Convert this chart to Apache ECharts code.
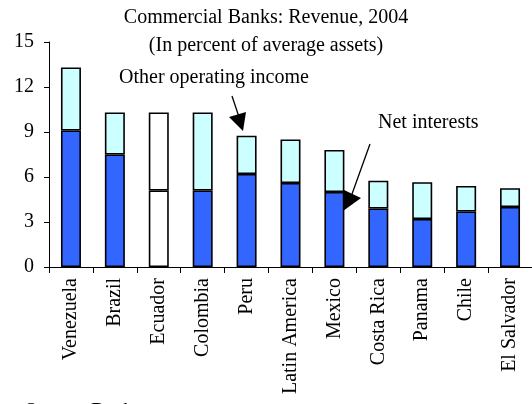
<!DOCTYPE html>
<html>
<head>
<meta charset="utf-8">
<script src="https://cdn.jsdelivr.net/npm/echarts@6/dist/echarts.min.js"></script>
<style>
  html, body { margin: 0; padding: 0; background: #fff; }
  #chart { width: 532px; height: 404px; }
</style>
</head>
<body>
<div id="chart"></div>
<script>
// Commercial bank revenue by country, 2004 (percent of average assets)
const countries = ['Venezuela', 'Brazil', 'Ecuador', 'Colombia', 'Peru', 'Latin America',
  'Mexico', 'Costa Rica', 'Panama', 'Chile', 'El Salvador'];
const netInterests = [9.1, 7.5, 5.1, 5.1, 6.2, 5.6, 5.0, 3.9, 3.2, 3.7, 4.0];
const otherIncome  = [4.2, 2.8, 5.2, 5.2, 2.55, 2.9, 2.8, 1.85, 2.45, 1.7, 1.25];
const yTicks = [0, 3, 6, 9, 12, 15];

const FONT = '"Liberation Serif", "Times New Roman", serif';
const BLUE = '#3366ff';
const CYAN = '#ccffff';
// Ecuador has no breakdown colouring
const blankCountry = 'Ecuador';

function cellStyle(base) {
  return (v, i) => ({
    value: v,
    itemStyle: { color: countries[i] === blankCountry ? '#ffffff' : base }
  });
}

const chart = echarts.init(document.getElementById('chart'), null, { renderer: 'canvas' });

const barBorder = { borderColor: '#000', borderWidth: 1.6 };

chart.setOption({
  animation: false,
  backgroundColor: '#ffffff',
  textStyle: { fontFamily: FONT },
  title: {
    text: 'Commercial Banks: Revenue, 2004',
    subtext: '(In percent of average assets)',
    left: 'center', top: 3,
    textStyle: { fontFamily: FONT, fontSize: 20, fontWeight: 'normal', color: '#000' },
    subtextStyle: { fontFamily: FONT, fontSize: 20, color: '#000' },
    itemGap: 8
  },
  grid: { left: 49, top: 42, width: 484, height: 225, containLabel: false },
  xAxis: {
    type: 'category',
    data: countries,
    axisLine: { lineStyle: { color: '#000', width: 1 } },
    axisTick: { show: true, length: 6, lineStyle: { color: '#000' } },
    axisLabel: {
      rotate: 90, interval: 0, margin: 11,
      fontFamily: FONT, fontSize: 20, color: '#000'
    }
  },
  yAxis: {
    type: 'value',
    min: yTicks[0], max: yTicks[yTicks.length - 1], interval: 3,
    splitLine: { show: false },
    axisLine: { show: true, lineStyle: { color: '#000', width: 1 } },
    axisTick: { show: true, length: 5, lineStyle: { color: '#000' } },
    axisLabel: { fontFamily: FONT, fontSize: 20, color: '#000', margin: 15 }
  },
  series: [
    {
      name: 'Net interests', type: 'bar', stack: 'rev', barWidth: 20,
      itemStyle: Object.assign({ color: BLUE }, barBorder),
      data: netInterests.map(cellStyle(BLUE))
    },
    {
      name: 'Other operating income', type: 'bar', stack: 'rev', barWidth: 20,
      itemStyle: Object.assign({ color: CYAN }, barBorder),
      data: otherIncome.map(cellStyle(CYAN))
    }
  ],
  graphic: [
    { type: 'text', left: 119, top: 68,
      style: { text: 'Other operating income', font: '20px ' + FONT, fill: '#000' } },
    { type: 'text', left: 378, top: 113,
      style: { text: 'Net interests', font: '20px ' + FONT, fill: '#000' } },
    // arrow to the Peru bar
    { type: 'line', shape: { x1: 232, y1: 96, x2: 239, y2: 117 },
      style: { stroke: '#000', lineWidth: 1.3 } },
    { type: 'polygon', shape: { points: [[229, 117], [246, 112], [243, 131]] },
      style: { fill: '#000' } },
    // arrow to the Mexico bar
    { type: 'line', shape: { x1: 370, y1: 144, x2: 352, y2: 194 },
      style: { stroke: '#000', lineWidth: 1.3 } },
    { type: 'polygon', shape: { points: [[344, 190], [361, 198], [343, 211]] },
      style: { fill: '#000' } },
    { type: 'text', left: 25, top: 402,
      style: { text: 'Source: Bankscope', font: '20px ' + FONT, fill: '#000' } }
  ]
});
</script>
</body>
</html>
